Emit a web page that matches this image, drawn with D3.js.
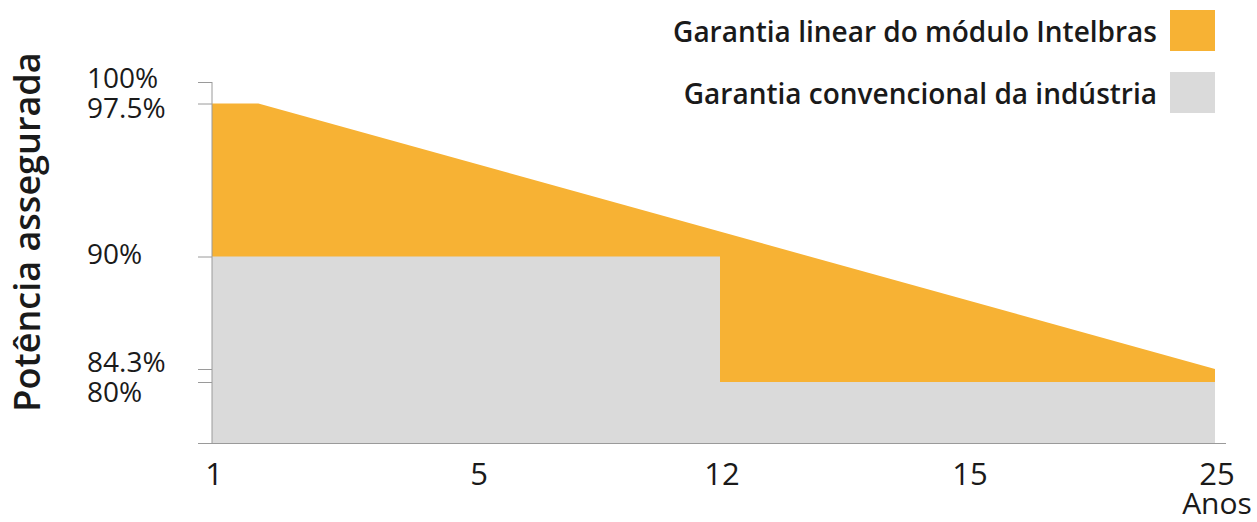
<!DOCTYPE html>
<html>
<head>
<meta charset="utf-8">
<script src="https://cdn.jsdelivr.net/npm/d3@7"></script>
<style>
body { margin: 0; background: #fff; }
text { font-family: "Open Sans", sans-serif; fill: #1a1a1a; }
</style>
</head>
<body>
<div id="chart"></div>
<script>
// dados
var anos = [1, 5, 12, 15, 25];
var niveis = [100, 97.5, 90, 84.3, 80];
var nivelLabels = ["100%", "97.5%", "90%", "84.3%", "80%"];
var intelbras = [{ano: 1, v: 97.5}, {ano: 1.7, v: 97.5}, {ano: 25, v: 84.3}];
var convencional = [{ano: 1, v: 90}, {ano: 12, v: 80}, {ano: 25, v: 80}];
var legenda = ["Garantia linear do módulo Intelbras", "Garantia convencional da indústria"];
var cores = ["#F7B234", "#DADADA"];

var W = 1257, H = 522;
var svg = d3.select("#chart").append("svg").attr("width", W).attr("height", H);

// eixos nao lineares no original, uso escalas por partes
var x = d3.scaleLinear().domain(anos).range([212, 477, 720, 968, 1215]);
var y = d3.scaleLinear().domain([75, 80, 84.3, 90, 97.5, 100]).range([443.5, 382, 369, 256.5, 103.5, 82]);

var area = d3.area()
  .x(function(d) { return x(d.ano); })
  .y0(y(75))
  .y1(function(d) { return y(d.v); });

svg.append("path").datum(intelbras)
  .attr("d", area)
  .attr("fill", cores[0]);

svg.append("path").datum(convencional)
  .attr("d", area.curve(d3.curveStepAfter))
  .attr("fill", cores[1]);

// eixo y
var yAxis = d3.axisLeft(y).tickValues(niveis).tickSize(14).tickFormat("");
var gy = svg.append("g").attr("transform", "translate(212,0)").call(yAxis);
gy.select(".domain").attr("d", "M0," + y(100) + "V" + y(75)).attr("stroke", "#9a9a9a");
gy.selectAll(".tick line").attr("stroke", "#9a9a9a");

// baselines dos rotulos (alguns ficam acima do tick, outros abaixo)
var labelY = [88, 118, 264, 372, 402];
svg.append("g").selectAll("text")
  .data(niveis)
  .enter().append("text")
  .attr("x", 87)
  .attr("y", function(d, i) { return labelY[i]; })
  .attr("font-size", "28px")
  .text(function(d, i) { return nivelLabels[i]; });

// linha base
svg.append("line")
  .attr("x1", 198).attr("x2", 1226)
  .attr("y1", y(75)).attr("y2", y(75))
  .attr("stroke", "#9a9a9a");

// eixo x
svg.append("g").selectAll("text")
  .data(anos)
  .enter().append("text")
  .attr("x", function(d) { return x(d) + 2; })
  .attr("y", 485)
  .attr("text-anchor", "middle")
  .attr("font-size", "31px")
  .text(function(d) { return d; });

svg.append("text")
  .attr("x", 1217).attr("y", 514)
  .attr("text-anchor", "middle")
  .attr("font-size", "30px")
  .text("Anos");

// titulo y
svg.append("text")
  .attr("transform", "translate(40,232) rotate(-90)")
  .attr("text-anchor", "middle")
  .attr("font-size", "36px")
  .attr("font-weight", 600)
  .text("Potência assegurada");

// legenda
var leg = svg.append("g").selectAll("g")
  .data(legenda)
  .enter().append("g")
  .attr("transform", function(d, i) { return "translate(0," + (i * 62) + ")"; });

leg.append("rect")
  .attr("x", 1170).attr("y", 10)
  .attr("width", 45).attr("height", 41)
  .attr("fill", function(d, i) { return cores[i]; });

leg.append("text")
  .attr("x", 1157).attr("y", 42)
  .attr("text-anchor", "end")
  .attr("font-size", "28px")
  .attr("font-weight", 600)
  .text(function(d) { return d; });
</script>
</body>
</html>
